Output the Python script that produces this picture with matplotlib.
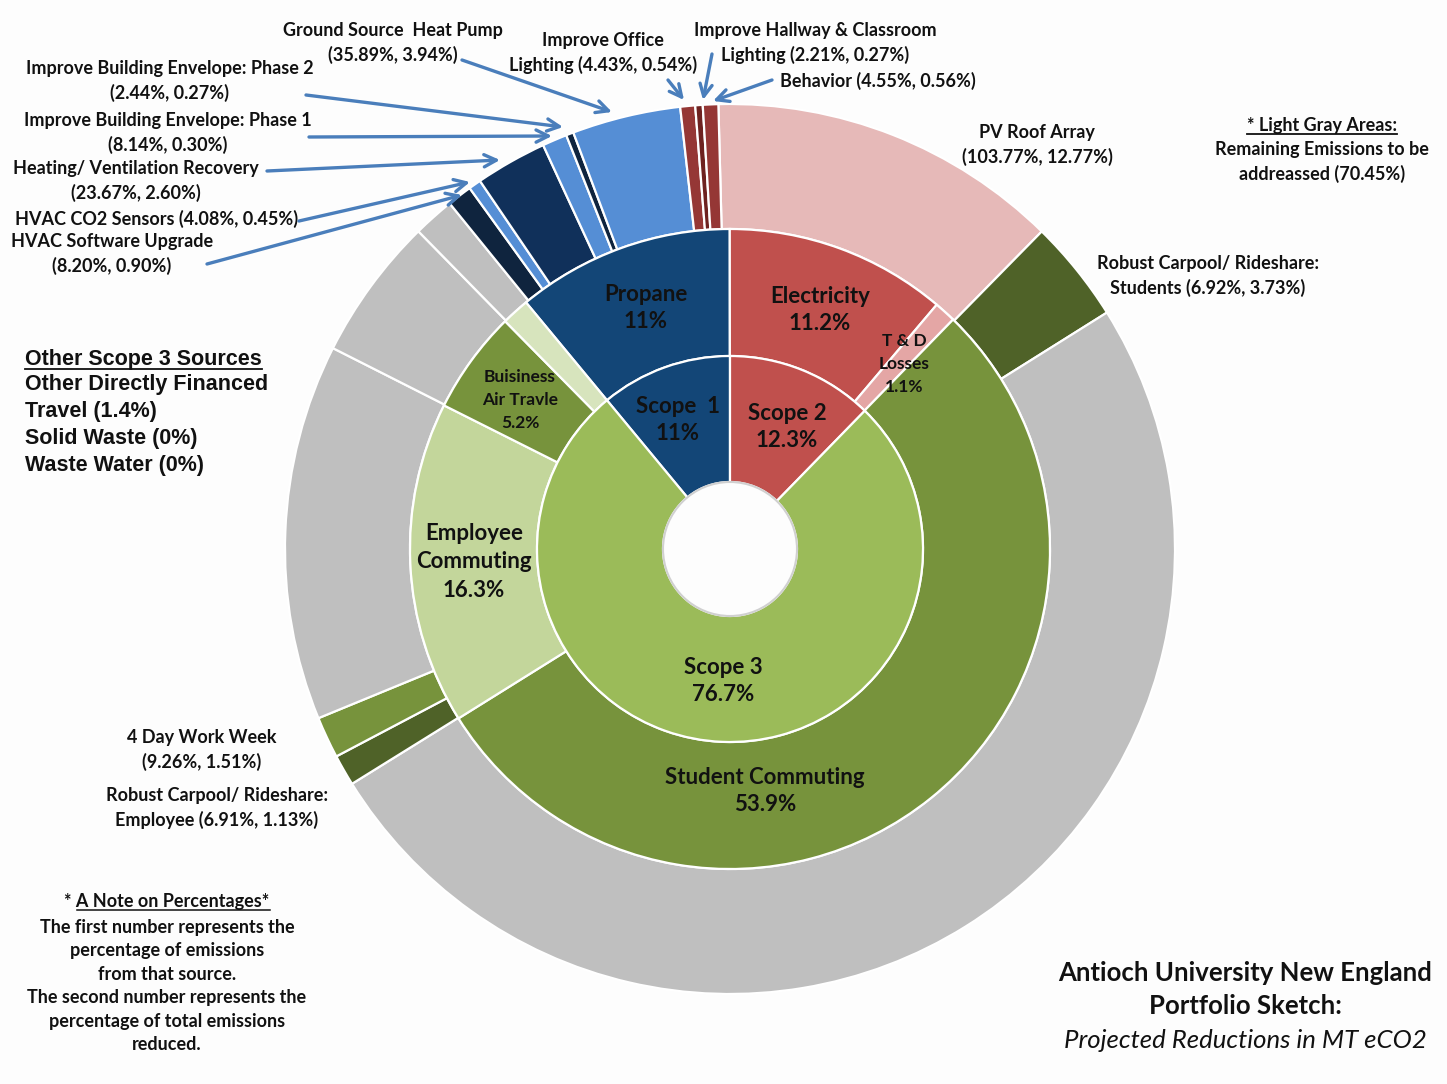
import matplotlib
matplotlib.use("Agg")
import matplotlib.pyplot as plt
from matplotlib.lines import Line2D

W, H = 1447, 1084
CX, CY = 730, H - 549

# inner ring: scopes
scope_labels = ['Scope  1\n11%', 'Scope 2\n12.3%', 'Scope 3\n76.7%']
scope_values = [11, 12.3, 76.7]
scope_colors = ['#134677', '#c0504d', '#9bbb59']

# middle ring: sources
source_labels = ['Propane\n11%', 'Electricity\n11.2%', 'T & D\nLosses\n1.1%', 'Student Commuting\n53.9%',
                 'Employee\nCommuting\n16.3%', 'Buisiness\nAir Travle\n5.2%', '']
source_values = [11, 11.2, 1.1, 53.9, 16.3, 5.2, 1.4]
source_colors = ['#134677', '#c0504d', '#e4a6a5', '#77933c', '#c3d69b', '#77933c', '#d7e4bd']

# outer ring: reductions and remaining emissions (gray), % of total
outer_names = ['PV Roof Array', 'Carpool Students', 'Remaining Student', 'Carpool Employee', '4 Day Work Week',
               'Remaining Employee', 'Remaining Air Travel', 'Remaining Other', 'HVAC Software', 'HVAC CO2',
               'Heating/Ventilation', 'Envelope Phase 1', 'Envelope Phase 2', 'Ground Source',
               'Office Lighting', 'Hallway Lighting', 'Behavior']
outer_values = [12.77, 3.73, 50.07, 1.13, 1.51, 13.66, 5.20, 1.50, 0.90, 0.45, 2.60, 0.90, 0.27, 3.94,
                0.54, 0.27, 0.56]
outer_colors = ['#e6b9b8', '#4f6228', '#bfbfbf', '#4f6228', '#77933c', '#bfbfbf', '#bfbfbf', '#bfbfbf',
                '#0f243e', '#558ed5', '#10305a', '#558ed5', '#0f243e', '#558ed5',
                '#953735', '#6e2220', '#953735']

FONT = ['Lato', 'DejaVu Sans']

fig = plt.figure(figsize=(W / 100, H / 100), dpi=100)
fig.patch.set_facecolor('#fdfdfd')
ax = fig.add_axes([0, 0, 1, 1])

wp = dict(edgecolor='white', linewidth=1.6)
ax.pie(outer_values, radius=445, center=(CX, CY), colors=outer_colors, startangle=91.5,
       counterclock=False, wedgeprops=dict(width=125, **wp))
ax.pie(source_values, radius=320, center=(CX, CY), colors=source_colors, startangle=129.6,
       counterclock=False, wedgeprops=dict(width=127, **wp))
ax.pie(scope_values, radius=193, center=(CX, CY), colors=scope_colors, startangle=129.6,
       counterclock=False, wedgeprops=dict(width=126, edgecolor='white', linewidth=1.6))
ax.add_patch(plt.Circle((CX, CY), 67, facecolor='#fdfdfd', edgecolor='#d0d0d0', lw=1.5))
ax.set_xlim(0, W)
ax.set_ylim(0, H)
ax.set_aspect('equal')
ax.axis('off')


def txt(x, y, s, size=13, ha='center', **kw):
    return ax.text(x, H - y, s, fontsize=size, ha=ha, va='center', family=FONT,
                   fontweight=kw.pop('weight', 'bold'), color=kw.pop('color', '#111111'),
                   linespacing=kw.pop('ls', 1.5), **kw)


# ring labels
txt(646, 308, source_labels[0], 16, ls=1.4)
txt(820, 310, source_labels[1], 16, ls=1.4)
txt(904, 364, source_labels[2], 12.5, ls=1.5)
txt(678, 420, scope_labels[0], 16, ls=1.4)
txt(787, 427, scope_labels[1], 16, ls=1.4)
txt(520, 400, source_labels[5], 12.5, ls=1.5)
txt(474, 562, source_labels[4], 16, ls=1.45)
txt(723, 681, scope_labels[2], 16, ls=1.4)
txt(765, 791, source_labels[3], 16, ls=1.4)

# annotations with arrows
arrow = dict(arrowstyle='->', color='#4a7ebb', lw=2.4, mutation_scale=22, shrinkA=0, shrinkB=0)


def ann(s, tx, ty, x0, y0, x1, y1, size=13, ha='center'):
    txt(tx, ty, s, size, ha=ha)
    ax.annotate('', xy=(x1, H - y1), xytext=(x0, H - y0), arrowprops=arrow)


ann('Ground Source  Heat Pump\n(35.89%, 3.94%)', 393, 43, 462, 60, 612, 112)
ann('Improve Office\nLighting (4.43%, 0.54%)', 603, 53, 668, 80, 684, 100)
ann('Improve Hallway & Classroom\nLighting (2.21%, 0.27%)', 815, 43, 712, 54, 703, 100)
ann('Behavior (4.55%, 0.56%)', 780, 81, 772, 80, 713, 101, ha='left')
ann('Improve Building Envelope: Phase 2\n(2.44%, 0.27%)', 170, 81, 306, 95, 563, 127)
ann('Improve Building Envelope: Phase 1\n(8.14%, 0.30%)', 168, 133, 309, 137, 552, 136)
ann('Heating/ Ventilation Recovery\n(23.67%, 2.60%)', 136, 181, 267, 171, 500, 160)
ann('HVAC CO2 Sensors (4.08%, 0.45%)', 157, 219, 299, 221, 470, 182)
ann('HVAC Software Upgrade\n(8.20%, 0.90%)', 112, 254, 207, 264, 462, 195)

txt(1037, 145, 'PV Roof Array\n(103.77%, 12.77%)')
txt(1208, 276, 'Robust Carpool/ Rideshare:\nStudents (6.92%, 3.73%)')
txt(202, 750, '4 Day Work Week\n(9.26%, 1.51%)')
txt(217, 808, 'Robust Carpool/ Rideshare:\nEmployee (6.91%, 1.13%)')

underlined = []
underlined.append(txt(1322, 126, '* Light Gray Areas:'))
txt(1322, 162, 'Remaining Emissions to be\naddreassed (70.45%)')

ARIAL = ['Liberation Sans', 'DejaVu Sans']
t = ax.text(25, H - 359, 'Other Scope 3 Sources', fontsize=15.5, family=ARIAL, fontweight='bold',
            ha='left', va='center', color='#111111')
underlined.append(t)
ax.text(25, H - 425, 'Other Directly Financed\nTravel (1.4%)\nSolid Waste (0%)\nWaste Water (0%)',
        fontsize=15.5, family=ARIAL, fontweight='bold', ha='left', va='center', color='#111111',
        linespacing=1.36)

note_head = txt(167, 902, '* A Note on Percentages*', 13)
txt(167, 986, 'The first number represents the\npercentage of emissions\nfrom that source.\n'
    'The second number represents the\npercentage of total emissions\nreduced.', 13, ls=1.47)

# title block
txt(1245, 973, 'Antioch University New England', 18.5)
txt(1245, 1006, 'Portfolio Sketch:', 18.5)
txt(1245, 1040, 'Projected Reductions in MT eCO2', 18.5, weight='normal', style='italic')

fig.canvas.draw()
for t in underlined:
    bb = t.get_window_extent()
    fig.add_artist(Line2D([bb.x0, bb.x1], [bb.y0 + 1, bb.y0 + 1], transform=None, color='#111111', lw=1.3))
bb = note_head.get_window_extent()
fig.add_artist(Line2D([bb.x0 + 13, bb.x1], [bb.y0 + 1, bb.y0 + 1], transform=None, color='#111111', lw=1.1))

fig.savefig('out.png', dpi=100, facecolor=fig.get_facecolor())
